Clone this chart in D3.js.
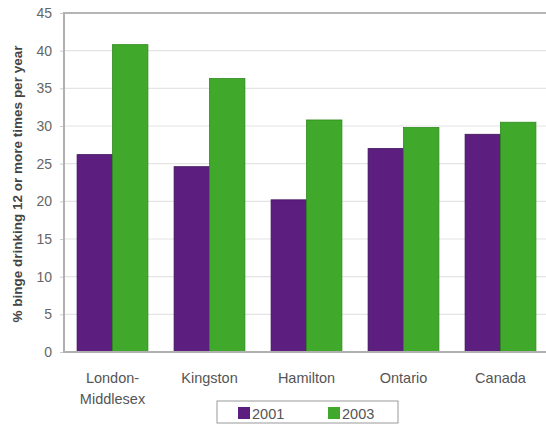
<!DOCTYPE html>
<html><head><meta charset="utf-8">
<script src="https://cdn.jsdelivr.net/npm/d3@7"></script>
<style>body{margin:0;background:#fff;} svg{display:block;font-family:Arial,"Liberation Sans",sans-serif;}</style>
</head><body>
<svg id="c" width="546" height="425"></svg>
<script>
const categories = [["London-","Middlesex"],["Kingston"],["Hamilton"],["Ontario"],["Canada"]];
const series = ["2001","2003"];
const values2001 = [26.2, 24.6, 20.2, 27.0, 28.9];
const values2003 = [40.8, 36.3, 30.8, 29.8, 30.5];
const yTicks = [0,5,10,15,20,25,30,35,40,45];
const colors = ["#5c1f80","#40a82a"];

(function(){
const svg = d3.select("#c");
const pl = 64, pr = 549, pt = 13, pb = 352;
const keys = categories.map(c => c.join(" "));
const x = d3.scaleBand().domain(keys).range([pl, pr]).paddingInner(0.27).paddingOuter(0.135);
const xi = d3.scaleBand().domain(series).range([0, x.bandwidth()]);
const y = d3.scaleLinear().domain([0,45]).range([pb, pt]);

// gridlines
svg.append("g").selectAll("line").data(yTicks.filter(t=>t>0)).join("line")
  .attr("x1", pl).attr("x2", pr).attr("y1", d=>y(d)).attr("y2", d=>y(d))
  .attr("stroke", t => t===45 ? "#b5b5b5" : "#e4e4e4").attr("stroke-width", t => t===45 ? 2 : 1.2);

// y axis
const ya = svg.append("g").attr("transform", `translate(${pl},0)`)
  .call(d3.axisLeft(y).tickValues(yTicks).tickSize(4).tickPadding(8));
ya.select(".domain").remove();
ya.selectAll(".tick line").attr("stroke", "#ccc");
ya.selectAll(".tick text").attr("fill", "#666").style("font-size", "14px").style("font-family", "Arial, 'Liberation Sans', sans-serif");

// bars
const data = keys.map((k,i) => ({k, v:[values2001[i], values2003[i]]}));
const g = svg.append("g").selectAll("g").data(data).join("g")
  .attr("transform", d => `translate(${x(d.k)},0)`);
g.selectAll("rect").data(d => d.v.map((v,j)=>({s:series[j], v, j}))).join("rect")
  .attr("x", d => xi(d.s)).attr("width", xi.bandwidth())
  .attr("y", d => y(d.v)).attr("height", d => y(0)-y(d.v))
  .attr("fill", d => colors[d.j])
  .attr("stroke", d => d.j===0 ? "#3e1259" : "#2f8a1d").attr("stroke-width", 0.8);

// axis lines
svg.append("line").attr("x1", pl).attr("x2", pl).attr("y1", pt-1).attr("y2", pb+1)
  .attr("stroke", "#b0b0b0").attr("stroke-width", 2);
svg.append("line").attr("x1", pl).attr("x2", pr).attr("y1", pb).attr("y2", pb)
  .attr("stroke", "#b0b0b0").attr("stroke-width", 2);

// category labels
const cl = svg.append("g").selectAll("text").data(categories).join("text")
  .attr("x", (d,i) => x(keys[i]) + x.bandwidth()/2).attr("y", 383)
  .attr("text-anchor", "middle").attr("fill", "#555").style("font-size", "14.5px");
cl.selectAll("tspan").data(d => d).join("tspan")
  .attr("x", function(){ return this.parentNode.getAttribute("x"); })
  .attr("dy", (d,i) => i===0 ? 0 : 21).text(d => d);

// y title
svg.append("text").attr("transform", "translate(22,184) rotate(-90)")
  .attr("text-anchor", "middle").attr("fill", "#444")
  .style("font-size", "13.5px").style("font-weight", "bold")
  .text("% binge drinking 12 or more times per year");

// legend
const lg = svg.append("g");
lg.append("rect").attr("x", 217).attr("y", 401).attr("width", 181).attr("height", 22)
  .attr("fill", "#fff").attr("stroke", "#999").attr("stroke-width", 1);
const li = lg.selectAll("g").data(series).join("g")
  .attr("transform", (d,i) => `translate(${238 + i*90},407)`);
li.append("rect").attr("width", 12).attr("height", 12).attr("fill", (d,i)=>colors[i]);
li.append("text").attr("x", 14).attr("y", 12).attr("fill", "#555").style("font-size", "14.5px").text(d=>d);
})();
</script>
</body></html>
